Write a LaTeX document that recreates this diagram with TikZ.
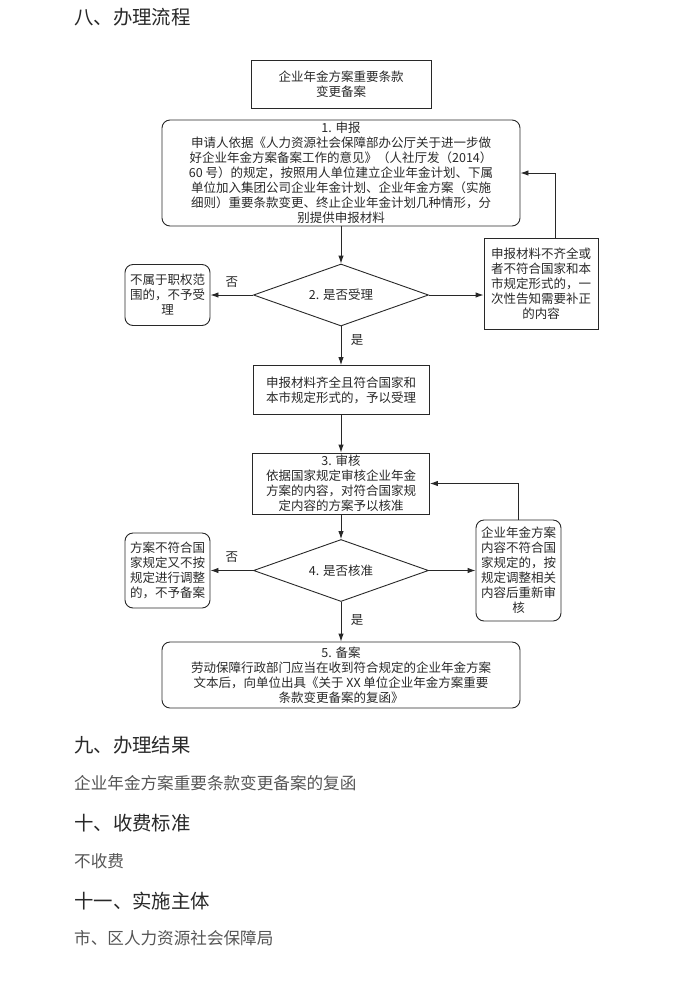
\documentclass[tikz,border=0pt]{standalone}
\usepackage{fontspec}
\setmainfont{Noto Sans CJK SC}
\usetikzlibrary{arrows.meta,shapes.geometric}

\begin{document}
\begin{tikzpicture}[x=1pt,y=-1pt,>={Latex[length=8pt,width=5.5pt]}]

\definecolor{inkgray}{RGB}{40, 40, 40}
\definecolor{textgray}{RGB}{85, 85, 85}

\useasboundingbox (0,0) rectangle (674,986);

\tikzset{
    flow box/.style={
        draw=inkgray, line width=0.9pt, rectangle, align=center,
        inner sep=2pt, text=inkgray,
        font=\fontsize{12.5}{15}\selectfont
    },
    round box/.style={flow box, rounded corners=8pt},
    decision/.style={
        draw=inkgray, line width=0.9pt, diamond, aspect=2.8,
        minimum width=175pt, minimum height=62pt, inner sep=0pt,
        text=inkgray, font=\fontsize{12.5}{15}\selectfont
    },
    link/.style={draw=inkgray, line width=0.9pt, ->},
    branch/.style={text=inkgray, font=\fontsize{12.5}{15}\selectfont},
    heading/.style={anchor=west, inner sep=0pt, text=inkgray, font=\fontsize{19.4}{22}\selectfont},
    body/.style={anchor=west, inner sep=0pt, text=textgray, font=\fontsize{16.6}{20}\selectfont}
}

% Section heading
\node[heading] (h8) at (74, 17) {八、办理流程};

% --- FLOW BOXES ---
\node[flow box, minimum width=180pt, minimum height=48pt] (topic) at (341, 84) {企业年金方案重要条款\\变更备案};

\node[round box, minimum width=358pt, minimum height=106pt] (apply) at (341, 173) {1. 申报\\
申请人依据《人力资源社会保障部办公厅关于进一步做\\
好企业年金方案备案工作的意见》（人社厅发（2014）\\
60 号）的规定，按照用人单位建立企业年金计划、下属\\
单位加入集团公司企业年金计划、企业年金方案（实施\\
细则）重要条款变更、终止企业年金计划几种情形，分\\
别提供申报材料};

\node[decision] (accept) at (341, 295) {2. 是否受理};

\node[round box, minimum width=85pt, minimum height=61pt] (refuse) at (167.5, 295) {不属于职权范\\围的，不予受\\理};

\node[flow box, minimum width=114pt, minimum height=91pt] (supply) at (541, 283.5) {申报材料不齐全或\\者不符合国家和本\\市规定形式的，一\\次性告知需要补正\\的内容};

\node[flow box, minimum width=176pt, minimum height=49pt] (accepted) at (341, 390) {申报材料齐全且符合国家和\\本市规定形式的，予以受理};

\node[flow box, minimum width=177pt, minimum height=61pt] (review) at (341, 483.5) {3. 审核\\依据国家规定审核企业年金\\方案的内容，对符合国家规\\定内容的方案予以核准};

\node[decision] (approve) at (341, 570.5) {4. 是否核准};

\node[round box, minimum width=85pt, minimum height=75pt] (nofile) at (167.5, 570.5) {方案不符合国\\家规定又不按\\规定进行调整\\的，不予备案};

\node[round box, minimum width=85pt, minimum height=101pt] (adjust) at (518.5, 570.5) {企业年金方案\\内容不符合国\\家规定的，按\\规定调整相关\\内容后重新审\\核};

\node[round box, minimum width=358pt, minimum height=66pt] (record) at (341, 675) {5. 备案\\
劳动保障行政部门应当在收到符合规定的企业年金方案\\
文本后，向单位出具《关于 XX 单位企业年金方案重要\\
条款变更备案的复函》};

% --- CONNECTORS ---
\draw[link] (apply) -- (accept);
\draw[link] (accept.west) -- (accept.west -| refuse.east) node[branch, midway, above=4pt] (no1) {否};
\draw[link] (accept.east) -- (accept.east -| supply.west);
\draw[link] ([xshift=14pt]supply.north) |- (apply.east);
\draw[link] (accept) -- (accepted) node[branch, pos=0.35, right=6pt] (yes1) {是};
\draw[link] (accepted) -- (review);
\draw[link] (review) -- (approve);
\draw[link] (approve.west) -- (approve.west -| nofile.east) node[branch, midway, above=4pt] (no2) {否};
\draw[link] (approve.east) -- (approve.east -| adjust.west);
\draw[link] (adjust.north) |- (review.east);
\draw[link] (approve) -- (record) node[branch, pos=0.45, right=6pt] (yes2) {是};

% --- RESULT SECTIONS ---
\node[heading] (h9) at (74, 745) {九、办理结果};
\node[body] (result) at (74, 783) {企业年金方案重要条款变更备案的复函};
\node[heading] (h10) at (74, 823) {十、收费标准};
\node[body] (fee) at (74, 861) {不收费};
\node[heading] (h11) at (74, 901) {十一、实施主体};
\node[body] (agency) at (74, 938) {市、区人力资源社会保障局};

\end{tikzpicture}
\end{document}
